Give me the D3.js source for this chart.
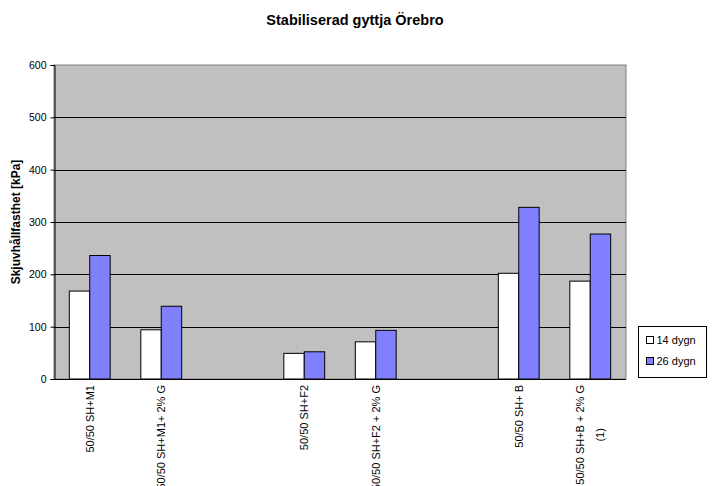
<!DOCTYPE html>
<html>
<head>
<meta charset="utf-8">
<script src="https://cdn.jsdelivr.net/npm/d3@7/dist/d3.min.js"></script>
<style>
  body { margin: 0; background: #fff; }
  svg { display: block; font-family: "Liberation Sans", Arial, sans-serif; }
</style>
</head>
<body>
<svg id="chart" width="713" height="486"></svg>
<script>
// Category labels (empty entries leave spacer slots between groups)
const categories = [
  ["50/50 SH+M1"],
  ["50/50 SH+M1+ 2% G"],
  [""],
  ["50/50 SH+F2"],
  ["50/50 SH+F2 + 2% G"],
  [""],
  ["50/50 SH+ B"],
  ["50/50 SH+B + 2% G", "(1)"]
];
const seriesNames = ["14 dygn", "26 dygn"];
const values14 = [168, 94, null, 49, 71, null, 202, 187];
const values26 = [236, 139, null, 52, 93, null, 328, 277];
const yTicks = [0, 100, 200, 300, 400, 500, 600];
const colors = ["#ffffff", "#8080ff"];

const svg = d3.select("#chart");
const plot = { left: 54, top: 65, right: 626, bottom: 379 };

const x = d3.scaleBand()
  .domain(d3.range(categories.length))
  .range([plot.left, plot.right])
  .paddingInner(0)
  .paddingOuter(0);

const y = d3.scaleLinear().domain([0, 600]).range([plot.bottom, plot.top]);

// Bars occupy 2 of (2 + 1.5) units per category
const barW = x.bandwidth() / 3.5;
const groupOffset = (x.bandwidth() - 2 * barW) / 2;

// Plot background
svg.append("rect")
  .attr("x", plot.left).attr("y", plot.top)
  .attr("width", plot.right - plot.left).attr("height", plot.bottom - plot.top)
  .attr("fill", "#c0c0c0").attr("stroke", "#808080").attr("stroke-width", 1);

// Gridlines
svg.append("g").selectAll("line")
  .data(yTicks.filter(t => t > 0 && t < 600))
  .join("line")
  .attr("x1", plot.left).attr("x2", plot.right)
  .attr("y1", d => Math.round(y(d)) + 0.5).attr("y2", d => Math.round(y(d)) + 0.5)
  .attr("stroke", "#000").attr("stroke-width", 1);

// Bars
const series = [values14, values26];
series.forEach((vals, si) => {
  svg.append("g").selectAll("rect")
    .data(vals.map((v, i) => ({ v, i })).filter(d => d.v != null))
    .join("rect")
    .attr("x", d => x(d.i) + groupOffset + si * barW)
    .attr("y", d => y(d.v))
    .attr("width", barW)
    .attr("height", d => y(0) - y(d.v))
    .attr("fill", colors[si])
    .attr("stroke", "#000")
    .attr("stroke-width", 1);
});

// Y axis
const yAxis = d3.axisLeft(y).tickValues(yTicks).tickSize(4).tickPadding(4);
const gy = svg.append("g")
  .attr("transform", `translate(${plot.left + 0.5},0)`)
  .call(yAxis);
gy.select(".domain").attr("stroke", "#000");
gy.selectAll(".tick line").attr("stroke", "#000");
gy.selectAll(".tick text").attr("font-size", 10.5).attr("fill", "#000")
  .attr("font-family", "Liberation Sans, Arial, sans-serif");

// X axis line
svg.append("line")
  .attr("x1", plot.left).attr("x2", plot.right)
  .attr("y1", plot.bottom + 0.5).attr("y2", plot.bottom + 0.5)
  .attr("stroke", "#000");

// Rotated category labels; extra lines are centred along the first line
const lineGap = 20;
const labelTop = plot.bottom + 6;
categories.forEach((lines, i) => {
  if (!lines[0]) return;
  const cx = x(i) + x.bandwidth() / 2;
  const n = lines.length;
  const first = svg.append("text")
    .attr("transform", `translate(${cx - (n - 1) * lineGap / 2},${labelTop}) rotate(-90)`)
    .attr("text-anchor", "end")
    .attr("dy", "0.35em")
    .attr("font-size", 11)
    .text(lines[0]);
  const len = first.node().getComputedTextLength();
  lines.slice(1).forEach((txt, k) => {
    svg.append("text")
      .attr("transform", `translate(${cx - (n - 1) * lineGap / 2 + (k + 1) * lineGap},${labelTop + len / 2}) rotate(-90)`)
      .attr("text-anchor", "middle")
      .attr("dy", "0.35em")
      .attr("font-size", 11)
      .text(txt);
  });
});

// Y title
svg.append("text")
  .attr("transform", `translate(16,${(plot.top + plot.bottom) / 2}) rotate(-90)`)
  .attr("text-anchor", "middle")
  .attr("dy", "0.35em")
  .attr("font-size", 12)
  .attr("font-weight", "bold")
  .text("Skjuvhållfasthet [kPa]");

// Title
svg.append("text")
  .attr("x", 355).attr("y", 25)
  .attr("text-anchor", "middle")
  .attr("font-size", 14.5)
  .attr("font-weight", "bold")
  .text("Stabiliserad gyttja Örebro");

// Legend
const lg = svg.append("g").attr("transform", "translate(638.5,326.5)");
lg.append("rect").attr("width", 68).attr("height", 51)
  .attr("fill", "#fff").attr("stroke", "#000");
seriesNames.forEach((name, i) => {
  const row = lg.append("g").attr("transform", `translate(8,${14 + i * 21})`);
  row.append("rect").attr("x", 0).attr("y", -4).attr("width", 7).attr("height", 7)
    .attr("fill", colors[i]).attr("stroke", "#000");
  row.append("text").attr("x", 10).attr("y", 0).attr("dy", "0.35em")
    .attr("font-size", 11).text(name);
});
</script>
</body>
</html>
